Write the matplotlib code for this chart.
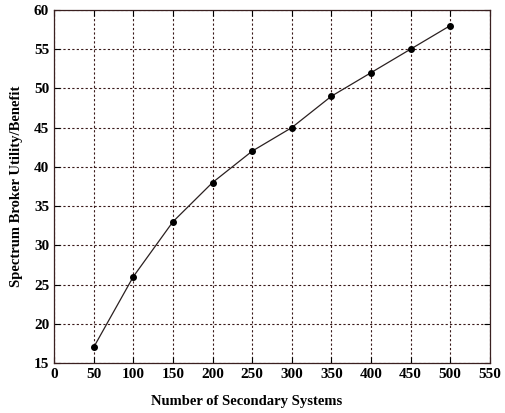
import matplotlib
matplotlib.use('Agg')
import matplotlib.pyplot as plt

num_systems = [50, 100, 150, 200, 250, 300, 350, 400, 450, 500]
broker_utility = [17, 26, 33, 38, 42, 45, 49, 52, 55, 58]
x_ticks = list(range(0, 551, 50))
y_ticks = list(range(15, 61, 5))

plt.rcParams['font.family'] = ['Liberation Serif', 'DejaVu Serif']
plt.rcParams['font.weight'] = 'bold'

fig = plt.figure(figsize=(5.05, 4.13), dpi=100)
ax = fig.add_axes([0.107, 0.121, 0.863, 0.855])

ax.plot(num_systems, broker_utility, color='#2a2020', linewidth=0.9,
        marker='o', markersize=4, markerfacecolor='black', markeredgecolor='black')

ax.set_xlim(0, 550)
ax.set_ylim(15, 60)
ax.set_xticks(x_ticks)
ax.set_yticks(y_ticks)
ax.tick_params(direction='in', top=True, right=True, labelsize=11, length=4)
for lbl in ax.get_xticklabels() + ax.get_yticklabels():
    lbl.set_fontweight('bold')

ax.grid(True, color='#3a1a1a', linestyle=(0, (2, 2)), linewidth=0.8)
for s in ax.spines.values():
    s.set_color('#3a2020')
    s.set_linewidth(0.9)

ax.set_xlabel('Number of Secondary Systems', fontsize=10.5, fontweight='bold')
ax.xaxis.set_label_coords(0.443, -0.09)
ax.set_ylabel('Spectrum Broker Utility/Benefit', fontsize=10.5, fontweight='bold', labelpad=8)

fig.savefig('out.png', dpi=100)
